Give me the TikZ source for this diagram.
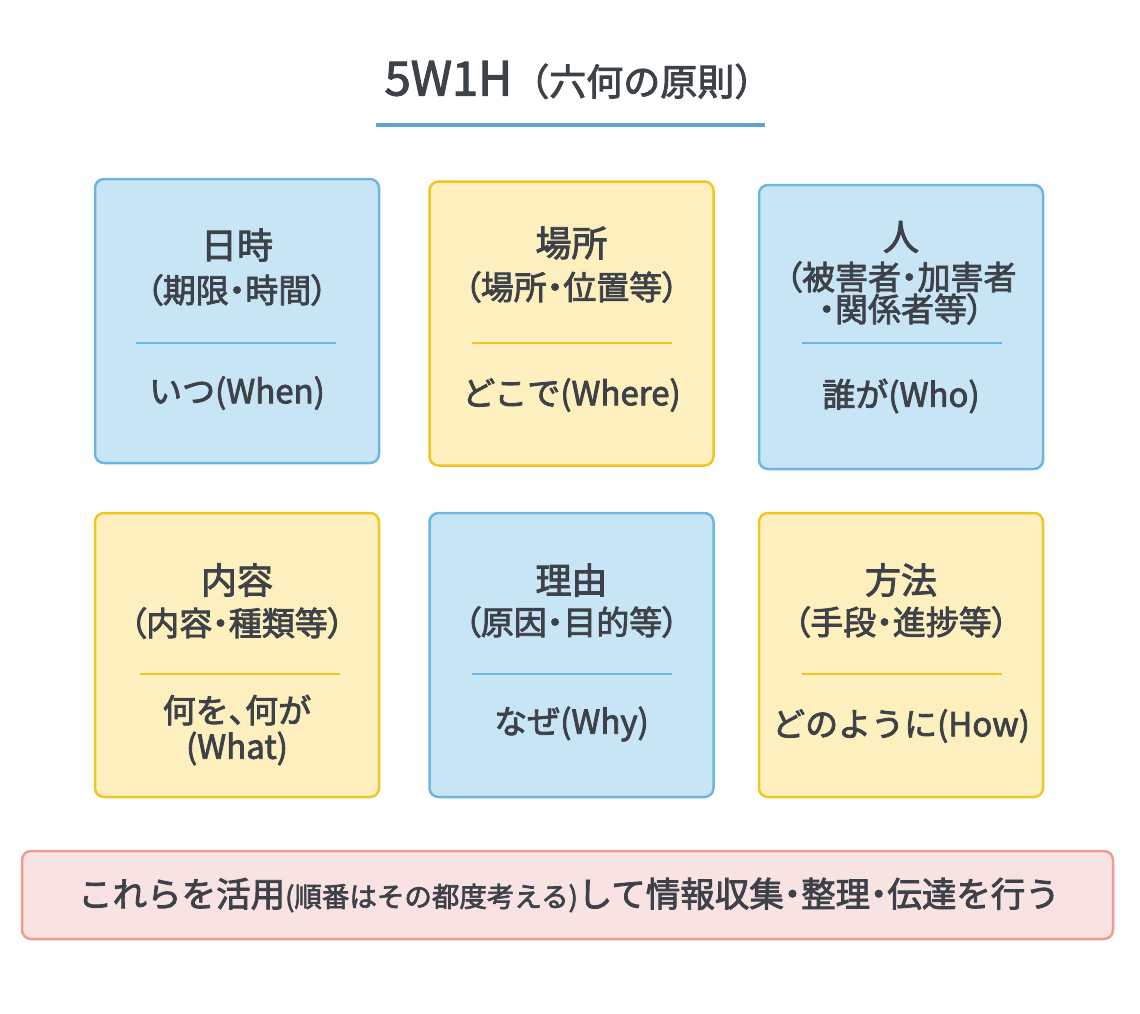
\documentclass[tikz,border=0pt]{standalone}
\usepackage{fontspec}
\setmainfont{Noto Sans CJK JP}[UprightFeatures={FakeBold=2.4}]
\newfontfamily\propfont{Noto Sans CJK JP}[RawFeature=+palt, UprightFeatures={FakeBold=2.4}]
\usetikzlibrary{positioning}
\definecolor{ink}{HTML}{3D4148}
\definecolor{skyfill}{HTML}{C8E5F5}
\definecolor{skyline}{HTML}{6DB6E2}
\definecolor{sunfill}{HTML}{FDF0BE}
\definecolor{sunline}{HTML}{F1C522}
\definecolor{rosefill}{HTML}{F9E2E2}
\definecolor{roseline}{HTML}{EE9C93}
\definecolor{rulecol}{HTML}{5AA4DA}

\begin{document}
\begin{tikzpicture}[x=1pt,y=-1pt]
  \tikzset{card/.style={draw, line width=2.5pt, rounded corners=9pt, minimum width=284pt, minimum height=284pt, inner sep=0pt}}
  \tikzset{skycard/.style={card, fill=skyfill, draw=skyline}}
  \tikzset{suncard/.style={card, fill=sunfill, draw=sunline}}
  \tikzset{head/.style={text=ink, font=\fontsize{36}{38}\selectfont, inner sep=0pt}}
  \tikzset{sub/.style={text=ink, font=\propfont\fontsize{33}{32}\selectfont, inner sep=0pt, align=center}}
  \tikzset{answer/.style={text=ink, font=\fontsize{33}{36}\selectfont, inner sep=0pt, align=center}}
  \tikzset{divider/.style={line width=2.5pt}}

  \useasboundingbox (0,0) rectangle (1140,1013);

  % title
  \node[text=ink, font=\fontsize{37}{40}\selectfont, inner sep=0pt] (title) at (578,80)
    {{\fontsize{47}{50}\selectfont 5W1H}（六何の原則）};
  \coordinate (rulel) at (376,125);
  \coordinate (ruler) at (765,125);
  \draw[rulecol, line width=4pt] (rulel) -- (ruler);

  % first row
  \node[skycard] (when) at (237,321) {};
  \node[head] (whenhead) at (237,245) {日時};
  \node[sub] (whensub) at (237,290) {（期限・時間）};
  \draw[divider, skyline] (136,343) -- (336,343);
  \node[answer] (whenans) at (237,393) {いつ(When)};

  \node[suncard] (where) at (571.5,323.5) {};
  \node[head] (wherehead) at (571.5,243) {場所};
  \node[sub] (wheresub) at (571.5,287) {（場所・位置等）};
  \draw[divider, sunline] (472,343) -- (672,343);
  \node[answer] (whereans) at (571.5,395) {どこで(Where)};

  \node[skycard] (who) at (901,327) {};
  \node[head] (whohead) at (901,237) {人};
  \node[sub] (whosub) at (901,293) {（被害者・加害者\\・関係者等）};
  \draw[divider, skyline] (802,343) -- (1002,343);
  \node[answer] (whoans) at (901,396) {誰が(Who)};

  % second row
  \node[suncard] (what) at (237,655) {};
  \node[head] (whathead) at (237,580) {内容};
  \node[sub] (whatsub) at (237,623) {（内容・種類等）};
  \draw[divider, sunline] (140,674) -- (340,674);
  \node[answer] (whatans) at (237,730) {何を{\propfont 、}何が\\(What)};

  \node[skycard] (why) at (571.5,655) {};
  \node[head] (whyhead) at (571.5,580) {理由};
  \node[sub] (whysub) at (571.5,622) {（原因・目的等）};
  \draw[divider, skyline] (472,674) -- (672,674);
  \node[answer] (whyans) at (571.5,724) {なぜ(Why)};

  \node[suncard] (how) at (901,655) {};
  \node[head] (howhead) at (901,580) {方法};
  \node[sub] (howsub) at (901,622) {（手段・進捗等）};
  \draw[divider, sunline] (802,674) -- (1002,674);
  \node[answer] (howans) at (901,726) {どのように(How)};

  % summary
  \node[draw=roseline, fill=rosefill, line width=2.5pt, rounded corners=9pt, minimum width=1091pt, minimum height=88pt, inner sep=0pt] (summary) at (567.5,895) {};
  \node[text=ink, font=\fontsize{34.5}{36}\selectfont, inner sep=0pt] (summarytext) at (569,895)
    {これらを活用{\fontsize{27.5}{30}\selectfont (順番はその都度考える)}して情報収集{\propfont ・}整理{\propfont ・}伝達を行う};
\end{tikzpicture}
\end{document}
